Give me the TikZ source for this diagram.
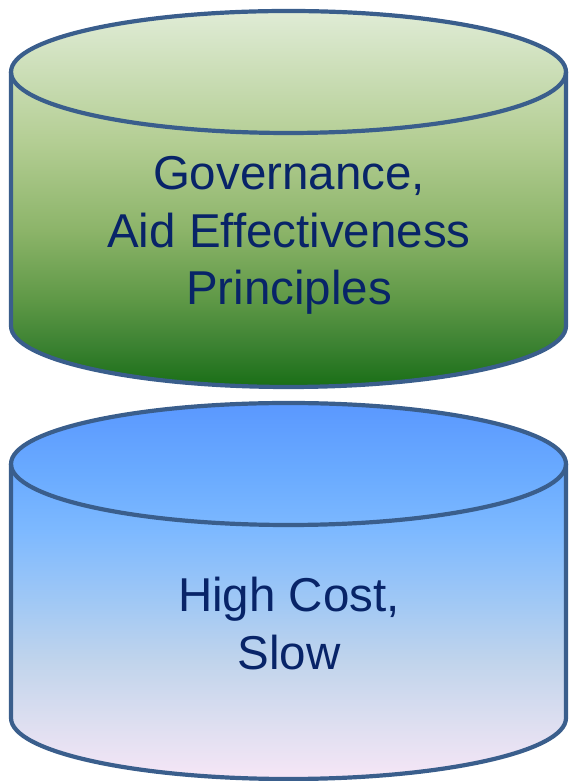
\documentclass[tikz,border=0pt]{standalone}
\usepackage{fontspec}
\setmainfont{Liberation Sans}
\definecolor{edge}{RGB}{58,94,140}
\definecolor{ink}{RGB}{8,36,104}
\pgfdeclareverticalshading{greencyl}{100bp}{%
 rgb(0bp)=(0.098,0.431,0.086);
 rgb(25bp)=(0.098,0.431,0.086);
 rgb(30.6bp)=(0.235,0.510,0.196);
 rgb(36.5bp)=(0.369,0.596,0.275);
 rgb(45.8bp)=(0.549,0.706,0.412);
 rgb(57.8bp)=(0.706,0.808,0.580);
 rgb(75bp)=(0.878,0.925,0.839);
 rgb(100bp)=(0.878,0.925,0.839)}
\pgfdeclareverticalshading{bluecyl}{100bp}{%
 rgb(0bp)=(0.965,0.902,0.965);
 rgb(25bp)=(0.965,0.902,0.965);
 rgb(32.8bp)=(0.863,0.871,0.941);
 rgb(40.8bp)=(0.753,0.831,0.925);
 rgb(48.7bp)=(0.627,0.784,0.961);
 rgb(58bp)=(0.490,0.725,1);
 rgb(66bp)=(0.412,0.667,1);
 rgb(75bp)=(0.353,0.596,1);
 rgb(100bp)=(0.353,0.596,1)}
\tikzset{
  cylline/.style={draw=edge, line width=4.2pt, line join=round},
  lbl/.style={text=ink, font=\fontsize{47.5}{57.5}\selectfont, anchor=base, inner sep=0pt},
  ell/.style={x radius=277.5, y radius=61}
}
\begin{document}
\begin{tikzpicture}[x=1pt,y=1pt]
\useasboundingbox (0,0) rectangle (568,781);
% top cylinder
\shade[shading=greencyl] (11,709) -- (11,455) arc[start angle=180,end angle=360,ell] -- (566,709) arc[start angle=0,end angle=180,ell] -- cycle;
\draw[cylline] (11,709) -- (11,455) arc[start angle=180,end angle=360,ell] -- (566,709) arc[start angle=0,end angle=180,ell] -- cycle;
\draw[cylline] (11,709) arc[start angle=180,end angle=360,ell];
% bottom cylinder
\shade[shading=bluecyl] (11,317) -- (11,63) arc[start angle=180,end angle=360,ell] -- (566,317) arc[start angle=0,end angle=180,ell] -- cycle;
\draw[cylline] (11,317) -- (11,63) arc[start angle=180,end angle=360,ell] -- (566,317) arc[start angle=0,end angle=180,ell] -- cycle;
\draw[cylline] (11,317) arc[start angle=180,end angle=360,ell];
% texts
\node[lbl] (t1) at (289,591) {Governance,};
\node[lbl] (t2) at (289,533) {Aid Effectiveness};
\node[lbl] (t3) at (289,476) {Principles};
\node[lbl] (b1) at (289,169) {High Cost,};
\node[lbl] (b2) at (289,111) {Slow};
\end{tikzpicture}
\end{document}
